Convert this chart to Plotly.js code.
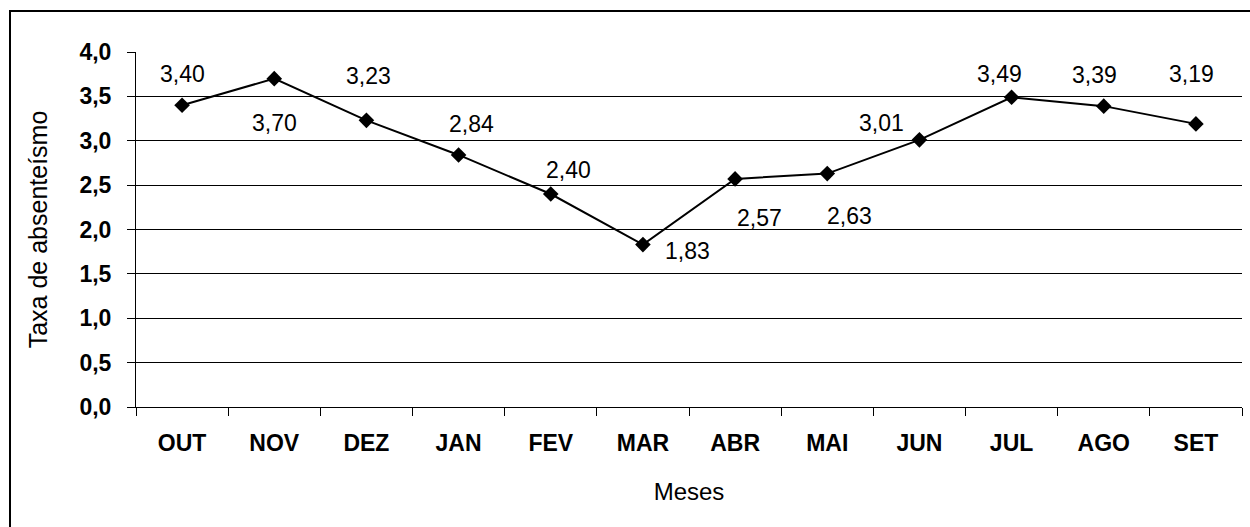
<!DOCTYPE html>
<html>
<head>
<meta charset="utf-8">
<script src="https://cdn.plot.ly/plotly-3.0.1.min.js"></script>
<style>
  html, body { margin: 0; padding: 0; background: #fff; }
  #wrap { position: relative; width: 1250px; height: 527px; overflow: hidden; }
  #chart { width: 1250px; height: 527px; }
  #frame { position: absolute; left: 9px; top: 10px; width: 1400px; height: 700px;
           border: 2px solid #000; pointer-events: none; }
</style>
</head>
<body>
<div id="wrap">
  <div id="chart"></div>
  <div id="frame"></div>
</div>
<script>
// Data
const months = ["OUT", "NOV", "DEZ", "JAN", "FEV", "MAR", "ABR", "MAI", "JUN", "JUL", "AGO", "SET"];
const absenteeism = [3.40, 3.70, 3.23, 2.84, 2.40, 1.83, 2.57, 2.63, 3.01, 3.49, 3.39, 3.19];
const yTickValues = [0, 0.5, 1, 1.5, 2, 2.5, 3, 3.5, 4];

// Label placement offsets (px) for each data label
const labelDX = [0, 0, 2, 13, 18, 45, 24, 22, -38, -12, -9, -4];
const labelDY = [31, -44, 44, 31, 24, -6, -39, -42, 17, 23, 31, 50];

const FONT = "Liberation Sans, Arial, sans-serif";

const trace = {
  type: "scatter",
  mode: "lines+markers",
  x: months,
  y: absenteeism,
  line: { color: "#000", width: 2 },
  marker: { symbol: "diamond", size: 12, color: "#000" },
  hoverinfo: "x+y",
  showlegend: false
};

const annotations = months.map((m, i) => ({
  x: m,
  y: absenteeism[i],
  xref: "x",
  yref: "y",
  text: absenteeism[i].toFixed(2).replace(".", ","),
  showarrow: false,
  xshift: labelDX[i],
  yshift: labelDY[i],
  font: { family: FONT, size: 23, color: "#000" }
}));

const layout = {
  width: 1250,
  height: 527,
  margin: { l: 136, r: 8, t: 52, b: 120 },
  paper_bgcolor: "#fff",
  plot_bgcolor: "#fff",
  separators: ",.",
  font: { family: FONT, size: 23, color: "#000" },
  showlegend: false,
  xaxis: {
    type: "category",
    range: [-0.5, 11.5],
    showgrid: false,
    zeroline: false,
    showline: true,
    linecolor: "#000",
    linewidth: 1,
    ticks: "outside",
    tickson: "boundaries",
    ticklen: 8,
    tickcolor: "#000",
    tickwidth: 1,
    ticklabelstandoff: 15,
    tickfont: { family: FONT, size: 23, color: "#000", weight: "bold" },
    title: { text: "Meses", standoff: 28, font: { family: FONT, size: 24, color: "#000" } },
    fixedrange: true
  },
  yaxis: {
    range: [0, 4],
    tickvals: yTickValues,
    tickformat: ".1f",
    showgrid: true,
    gridcolor: "#000",
    gridwidth: 1,
    zeroline: false,
    showline: true,
    linecolor: "#000",
    linewidth: 1,
    ticks: "outside",
    ticklen: 8,
    tickcolor: "#000",
    tickwidth: 1,
    ticklabelstandoff: 11,
    tickfont: { family: FONT, size: 23, color: "#000", weight: "bold" },
    title: { text: "Taxa de absenteísmo", standoff: 24, font: { family: FONT, size: 25, color: "#000" } },
    fixedrange: true
  },
  annotations: annotations
};

Plotly.newPlot("chart", [trace], layout, { displayModeBar: false, staticPlot: true });
</script>
</body>
</html>
